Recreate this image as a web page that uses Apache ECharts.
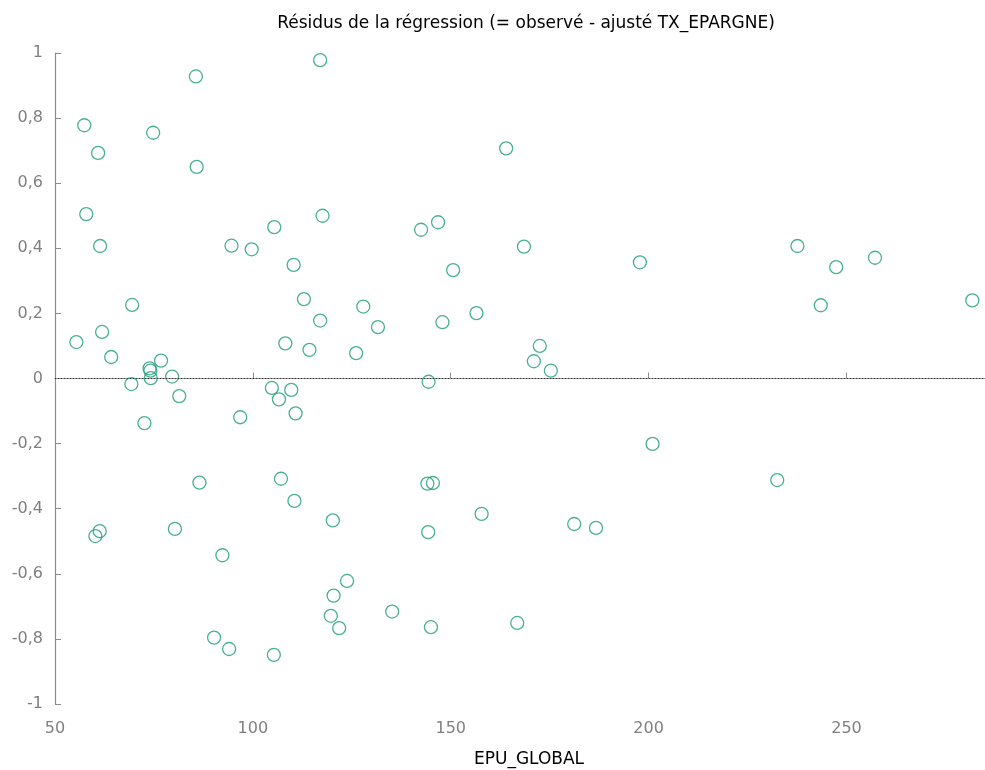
<!DOCTYPE html>
<html>
<head>
<meta charset="utf-8">
<script src="https://cdn.jsdelivr.net/npm/echarts@6/dist/echarts.min.js"></script>
<style>
html,body{margin:0;padding:0;background:#fff;}
#chart{width:985px;height:770px;}
</style>
</head>
<body>
<div id="chart"></div>
<script>
var titleText = 'Résidus de la régression (= observé - ajusté TX_EPARGNE)';
var xName = 'EPU_GLOBAL';
var epuGlobal = [55.4,57.4,57.9,60.9,61.4,61.9,64.2,69.5,69.3,60.2,61.3,72.6,73.9,74.1,74.2,74.8,76.8,79.6,81.4,80.3,
  85.6,85.8,86.5,92.3,90.2,94.0,94.6,96.8,99.7,105.4,104.8,106.6,105.3,108.2,109.7,110.8,107.1,110.5,110.3,112.9,
  114.3,117.0,117.0,117.6,164.0,142.5,146.8,168.5,150.6,197.8,127.9,131.6,147.9,156.5,126.1,172.5,171.0,175.3,144.4,201.0,
  144.1,145.5,120.2,157.8,144.3,181.2,186.7,123.8,120.4,119.7,121.8,135.2,145.0,166.8,237.6,247.4,257.2,243.5,281.8,232.5];
var residus = [0.112,0.778,0.505,0.693,0.407,0.143,0.066,0.226,-0.017,-0.484,-0.469,-0.137,0.031,0.024,0.001,0.755,0.055,0.006,-0.054,-0.462,
  0.928,0.650,-0.320,-0.543,-0.796,-0.831,0.408,-0.119,0.397,0.465,-0.029,-0.064,-0.849,0.108,-0.035,-0.107,-0.308,-0.376,0.349,0.244,
  0.088,0.178,0.978,0.500,0.707,0.457,0.480,0.405,0.333,0.357,0.221,0.158,0.173,0.201,0.078,0.100,0.053,0.024,-0.010,-0.201,
  -0.323,-0.321,-0.436,-0.416,-0.472,-0.447,-0.459,-0.622,-0.667,-0.729,-0.767,-0.716,-0.764,-0.751,0.407,0.342,0.371,0.225,0.240,-0.312];

var points = epuGlobal.map(function(x, i){ return [x, residus[i]]; });
var font = 'DejaVu Sans';
var chart = echarts.init(document.getElementById('chart'));
chart.setOption({
  animation: false,
  backgroundColor: '#ffffff',
  title: [
    { text: titleText, left: 521, top: 10, textAlign: 'center',
      textStyle: { fontFamily: font, fontSize: 17, fontWeight: 'normal', color: '#000' } },
    { text: xName, left: 524, top: 746, textAlign: 'center',
      textStyle: { fontFamily: font, fontSize: 17, fontWeight: 'normal', color: '#000' } }
  ],
  grid: { left: 55, right: 0, top: 53, bottom: 66, containLabel: false },
  xAxis: {
    type: 'value', min: 50, max: 285, interval: 50,
    splitLine: { show: false },
    axisLine: { lineStyle: { color: '#8c8c8c', width: 1.2 } },
    axisTick: { inside: true, length: 6, lineStyle: { color: '#8c8c8c' } },
    axisLabel: { fontFamily: font, fontSize: 16, color: '#808080', margin: 17, showMaxLabel: false,
      formatter: function(v){ return v % 50 === 0 ? String(v) : ''; } }
  },
  yAxis: {
    type: 'value', min: -1, max: 1, interval: 0.2,
    splitLine: { show: false },
    axisLine: { show: true, lineStyle: { color: '#8c8c8c', width: 1.2 } },
    axisTick: { show: true, inside: true, length: 6, lineStyle: { color: '#8c8c8c' } },
    axisLabel: { fontFamily: font, fontSize: 16, color: '#808080', margin: 12,
      formatter: function(v){ return String(Math.round(v*10)/10).replace('.', ','); } }
  },
  series: [{
    type: 'scatter',
    data: points,
    symbol: 'circle',
    symbolSize: 13,
    itemStyle: { color: 'rgba(0,0,0,0)', borderColor: '#1b9e77', borderWidth: 1.3 },
    markLine: {
      silent: true, symbol: 'none', animation: false,
      label: { show: false },
      lineStyle: { color: '#333', type: [1, 2], width: 1 },
      data: [{ yAxis: 0 }]
    }
  }]
});
</script>
</body>
</html>
